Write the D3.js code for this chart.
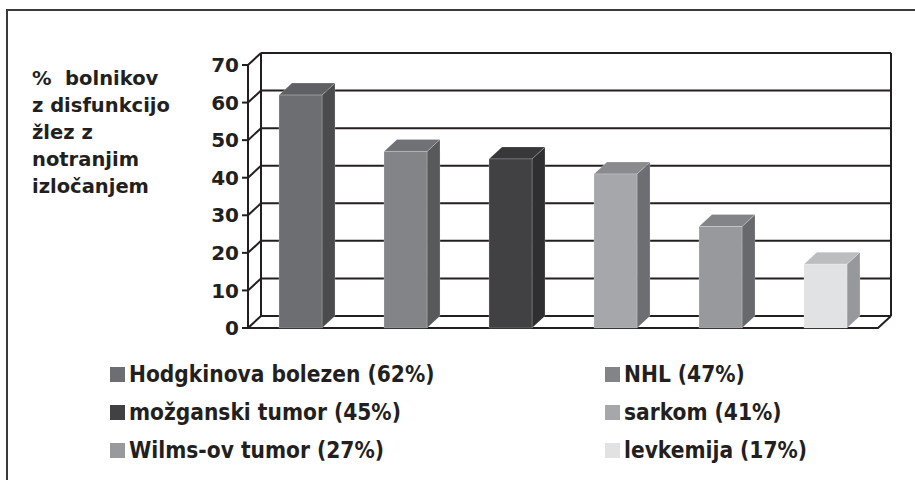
<!DOCTYPE html>
<html lang="sl">
<head>
  <meta charset="UTF-8" />
  <title>Disfunkcija žlez z notranjim izločanjem</title>
  <style>
    html, body {
      margin: 0;
      padding: 0;
      background: #ffffff;
    }
    svg text {
      fill: #231f20;
      font-weight: bold;
    }
  </style>
</head>
<body>
  <svg id="chart" width="915" height="480"></svg>

  <script src="https://d3js.org/d3.v7.min.js"></script>
  <script>
    // podatki
    const categories = ["Hodgkinova bolezen", "NHL", "možganski tumor", "sarkom", "Wilms-ov tumor", "levkemija"];
    const values = [62, 47, 45, 41, 27, 17];
    const frontColors = ["#6d6e71", "#838487", "#414143", "#a6a7aa", "#98999c", "#e1e2e4"];
    const sideColors = ["#4b4b4d", "#58595b", "#2f2e30", "#6d6e71", "#68696c", "#97989b"];
    const topColors = ["#5f6063", "#707174", "#38383a", "#8a8b8e", "#838487", "#bcbdbf"];
    const yTicks = [0, 10, 20, 30, 40, 50, 60, 70];
    const titleLines = ["%  bolnikov", "z disfunkcijo", "žlez z", "notranjim", "izločanjem"];

    const svg = d3.select("#chart");
    const ink = "#231f20";

    // globina 3D stene
    const dx = 13, dy = 12;

    const x = d3.scaleBand()
      .domain(categories)
      .range([248, 878])
      .paddingInner(0.59)
      .paddingOuter(0.295);

    const y = d3.scaleLinear()
      .domain([0, 70])
      .range([328, 65]);

    // okvir (zgoraj in levo)
    svg.append("path")
      .attr("d", "M7,480 L7,10 L915,10")
      .attr("fill", "none")
      .attr("stroke", "#3a3a3a")
      .attr("stroke-width", 2);

    const grid = svg.append("g")
      .attr("stroke", ink)
      .attr("stroke-width", 2)
      .attr("fill", "none");

    const x0 = x.range()[0], x1 = x.range()[1];

    // mreža na zadnji steni, diagonale na levi steni, kljukice
    yTicks.forEach(t => {
      grid.append("line")
        .attr("x1", x0 + dx).attr("x2", x1 + dx)
        .attr("y1", y(t) - dy).attr("y2", y(t) - dy);
      grid.append("line")
        .attr("x1", x0).attr("x2", x0 + dx)
        .attr("y1", y(t)).attr("y2", y(t) - dy);
      grid.append("line")
        .attr("x1", x0 - 6).attr("x2", x0)
        .attr("y1", y(t)).attr("y2", y(t));
    });

    // navpični robovi
    grid.append("line")
      .attr("x1", x0).attr("x2", x0)
      .attr("y1", y(70)).attr("y2", y(0));
    grid.append("line")
      .attr("x1", x0 + dx).attr("x2", x0 + dx)
      .attr("y1", y(70) - dy).attr("y2", y(0) - dy);
    grid.append("line")
      .attr("x1", x1 + dx).attr("x2", x1 + dx)
      .attr("y1", y(70) - dy).attr("y2", y(0) - dy);

    // tla
    grid.append("path")
      .attr("d", `M${x0},${y(0)} L${x1},${y(0)} L${x1 + dx},${y(0) - dy}`);

    // stolpci
    const bars = svg.append("g");
    categories.forEach((c, i) => {
      const bx = x(c), bw = x.bandwidth();
      const by = y(values[i]), b0 = y(0);
      const g = bars.append("g")
        .attr("stroke", "#ffffff")
        .attr("stroke-opacity", 0.35)
        .attr("stroke-width", 0.6)
        .attr("stroke-linejoin", "round");
      g.append("path")
        .attr("fill", sideColors[i])
        .attr("d", `M${bx + bw},${by} L${bx + bw + dx},${by - dy} L${bx + bw + dx},${b0 - dy} L${bx + bw},${b0} Z`);
      g.append("path")
        .attr("fill", topColors[i])
        .attr("d", `M${bx},${by} L${bx + dx},${by - dy} L${bx + bw + dx},${by - dy} L${bx + bw},${by} Z`);
      g.append("rect")
        .attr("fill", frontColors[i])
        .attr("x", bx).attr("y", by)
        .attr("width", bw).attr("height", b0 - by);
    });

    // oznake osi y
    svg.append("g")
      .selectAll("text")
      .data(yTicks)
      .join("text")
      .attr("x", 239)
      .attr("y", d => y(d))
      .attr("dy", "0.36em")
      .attr("text-anchor", "end")
      .style("font-family", "'DejaVu Sans', Verdana, sans-serif")
      .style("font-size", "20px")
      .text(d => d);

    // naslov osi
    svg.append("g")
      .selectAll("text")
      .data(titleLines)
      .join("text")
      .attr("x", 32)
      .attr("y", (d, i) => 85 + i * 27)
      .style("font-family", "'DejaVu Sans', Verdana, sans-serif")
      .style("font-size", "19.5px")
      .style("white-space", "pre")
      .text(d => d);

    // legenda
    const legend = svg.append("g");
    categories.forEach((c, i) => {
      const col = i % 2, row = Math.floor(i / 2);
      const lx = col === 0 ? 110 : 605;
      const ly = 382 + row * 38;
      legend.append("rect")
        .attr("x", lx).attr("y", ly - 15)
        .attr("width", 15).attr("height", 15)
        .attr("fill", frontColors[i]);
      legend.append("text")
        .attr("x", lx + 19)
        .attr("y", ly)
        .style("font-family", "'DejaVu Sans Condensed', 'DejaVu Sans', sans-serif")
        .style("font-size", "22.5px")
        .text(`${c} (${values[i]}%)`);
    });
  </script>
</body>
</html>
